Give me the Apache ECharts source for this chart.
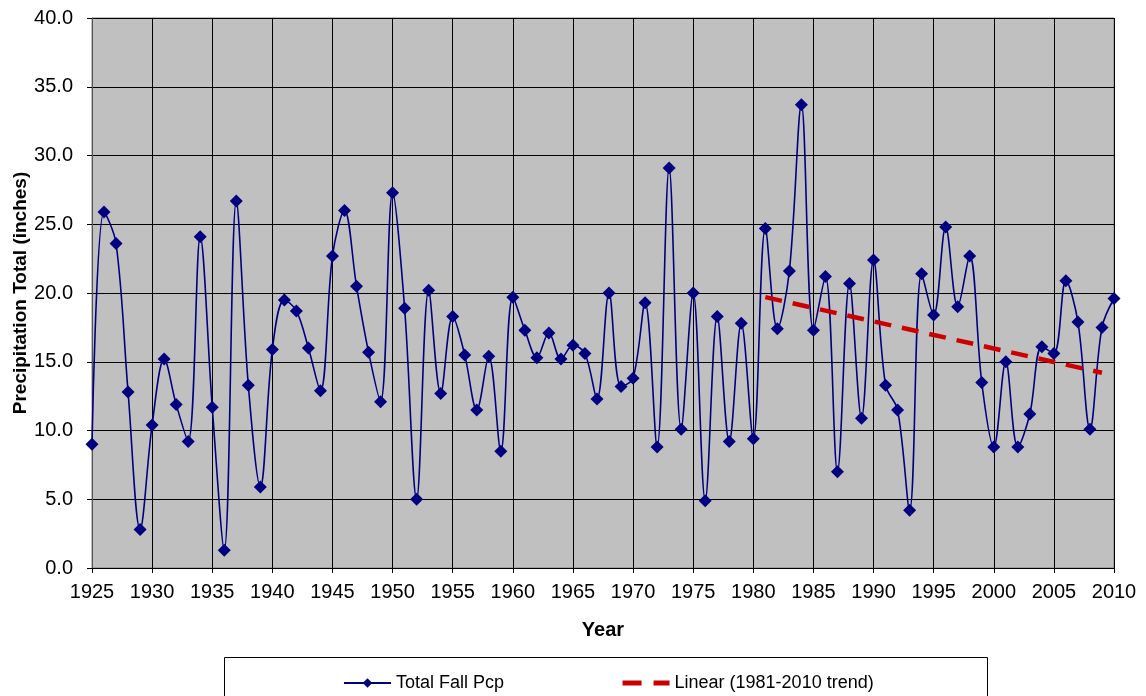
<!DOCTYPE html>
<html>
<head>
<meta charset="utf-8">
<title>Total Fall Precipitation</title>
<script src="https://cdn.jsdelivr.net/npm/echarts@6/dist/echarts.min.js"></script>
<style>
  html, body { margin: 0; padding: 0; background: #fff; }
  #main { width: 1146px; height: 696px; }
</style>
</head>
<body>
<div id="main"></div>
<script>
// 数据：年份和秋季降水总量（英寸）
var years = [
    1925, 1926, 1927, 1928, 1929, 1930, 1931, 1932, 1933, 1934,
    1935, 1936, 1937, 1938, 1939, 1940, 1941, 1942, 1943, 1944,
    1945, 1946, 1947, 1948, 1949, 1950, 1951, 1952, 1953, 1954,
    1955, 1956, 1957, 1958, 1959, 1960, 1961, 1962, 1963, 1964,
    1965, 1966, 1967, 1968, 1969, 1970, 1971, 1972, 1973, 1974,
    1975, 1976, 1977, 1978, 1979, 1980, 1981, 1982, 1983, 1984,
    1985, 1986, 1987, 1988, 1989, 1990, 1991, 1992, 1993, 1994,
    1995, 1996, 1997, 1998, 1999, 2000, 2001, 2002, 2003, 2004,
    2005, 2006, 2007, 2008, 2009, 2010
];
var fallPcp = [
    9.0, 25.9, 23.6, 12.8, 2.8, 10.4, 15.2, 11.9, 9.2, 24.1,
    11.7, 1.3, 26.7, 13.3, 5.9, 15.9, 19.5, 18.7, 16.0, 12.9,
    22.7, 26.0, 20.5, 15.7, 12.1, 27.3, 18.9, 5.0, 20.2, 12.7,
    18.3, 15.5, 11.5, 15.4, 8.5, 19.7, 17.3, 15.3, 17.1, 15.2,
    16.2, 15.6, 12.3, 20.0, 13.2, 13.8, 19.3, 8.8, 29.1, 10.1,
    20.0, 4.9, 18.3, 9.2, 17.8, 9.4, 24.7, 17.4, 21.6, 33.7,
    17.3, 21.2, 7.0, 20.7, 10.9, 22.4, 13.3, 11.5, 4.2, 21.4,
    18.4, 24.8, 19.0, 22.7, 13.5, 8.8, 15.0, 8.8, 11.2, 16.1,
    15.6, 20.9, 17.9, 10.1, 17.5, 19.6
];
// 趋势线两端
var trendYears = [1981, 2009];
var trendValues = [19.7, 14.2];

var yTicks = [0, 5, 10, 15, 20, 25, 30, 35, 40];

(function() {
    var myChart = echarts.init(document.getElementById("main"));
    var font = "'Liberation Sans', Arial, sans-serif";

    var pcpData = years.map(function(y, i) { return [y, fallPcp[i]]; });
    var trendData = trendYears.map(function(y, i) { return [y, trendValues[i]]; });

    var option = {
        animation: false,
        backgroundColor: "#fff",
        textStyle: { fontFamily: font },
        grid: {
            left: 92,
            right: 32,
            top: 18,
            bottom: 128,
            outerBoundsMode: "none",
            show: true,
            backgroundColor: "#c0c0c0",
            borderColor: "#808080",
            borderWidth: 1
        },
        // 图例外框
        graphic: [{
            type: "rect",
            shape: { x: 224.5, y: 657.5, width: 763, height: 45 },
            style: { fill: "#fff", stroke: "#000", lineWidth: 1 },
            z: 0
        }],
        legend: {
            left: 338,
            top: 669,
            itemWidth: 47,
            itemHeight: 12,
            itemGap: 116,
            textStyle: { fontSize: 18, color: "#000", fontFamily: font },
            data: [
                { name: "Total Fall Pcp" },
                {
                    name: "Linear (1981-2010 trend)",
                    // 图例里只显示虚线，不显示圆点
                    itemStyle: { opacity: 0 },
                    lineStyle: { color: "#cc0000", width: 5, type: [19, 12] }
                }
            ],
            z: 5
        },
        xAxis: {
            type: "value",
            min: 1925,
            max: 2010,
            interval: 5,
            name: "Year",
            nameLocation: "middle",
            nameGap: 52,
            nameTextStyle: { fontSize: 20, fontWeight: "bold", color: "#000", fontFamily: font },
            axisLine: { lineStyle: { color: "#000" } },
            axisTick: { show: true, inside: false, length: 5, lineStyle: { color: "#000" } },
            axisLabel: {
                fontSize: 20,
                color: "#000",
                margin: 14,
                formatter: function(v) { return String(v); }
            },
            splitLine: { show: true, lineStyle: { color: "#000", width: 1 } }
        },
        yAxis: {
            type: "value",
            min: yTicks[0],
            max: yTicks[yTicks.length - 1],
            interval: 5,
            name: "Precipitation Total (inches)",
            nameLocation: "middle",
            nameGap: 62,
            nameMoveOverlap: false,
            nameTextStyle: { fontSize: 19, fontWeight: "bold", color: "#000", fontFamily: font },
            axisLine: { show: true, lineStyle: { color: "#555" } },
            axisTick: { show: true, inside: false, length: 5, lineStyle: { color: "#000" } },
            axisLabel: {
                fontSize: 20,
                color: "#000",
                margin: 19,
                formatter: function(v) { return v.toFixed(1); }
            },
            splitLine: { show: true, lineStyle: { color: "#000", width: 1 } }
        },
        series: [{
            name: "Total Fall Pcp",
            type: "line",
            data: pcpData,
            smooth: 0.35,
            symbol: "diamond",
            symbolSize: [13, 13],
            itemStyle: { color: "#000080" },
            lineStyle: { color: "#000080", width: 1.6 },
            z: 3
        }, {
            name: "Linear (1981-2010 trend)",
            type: "line",
            data: trendData,
            symbol: "none",
            itemStyle: { color: "#cc0000" },
            lineStyle: { color: "#cc0000", width: 4.5, type: [17, 11], cap: "butt" },
            z: 4
        }]
    };

    myChart.setOption(option);
    window.addEventListener("resize", function() {
        myChart.resize();
    });
})();
</script>
</body>
</html>
